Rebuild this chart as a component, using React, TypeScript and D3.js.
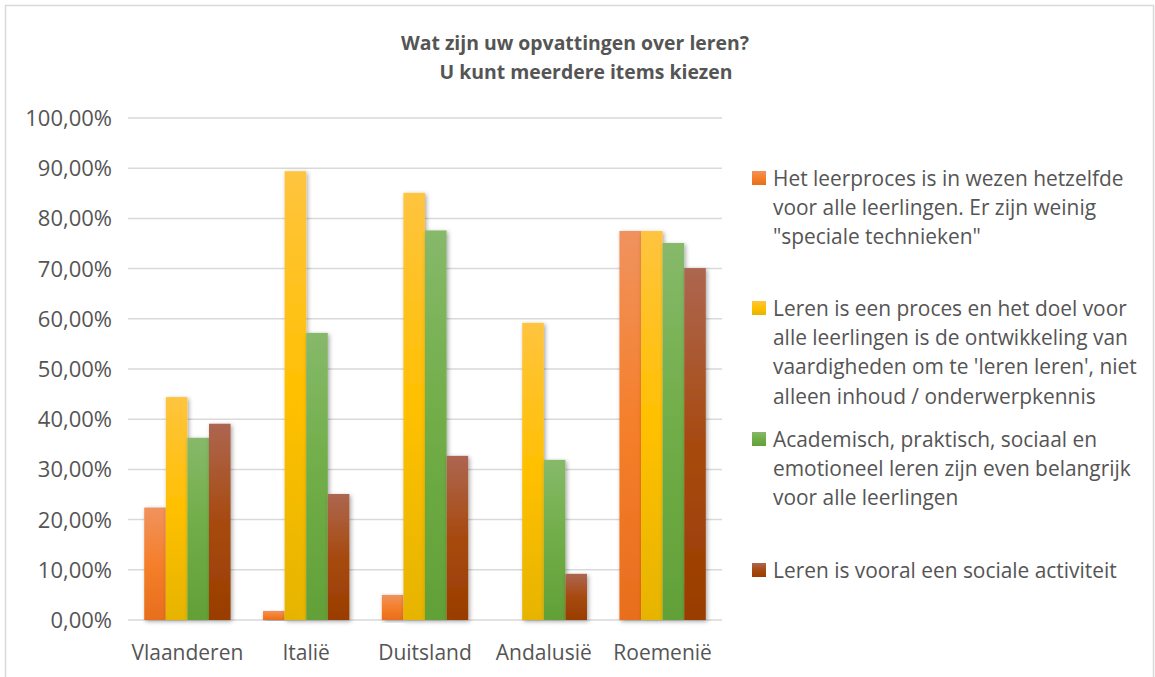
import React from "react";
import * as d3 from "d3";

const categories = ["Vlaanderen", "Italië", "Duitsland", "Andalusië", "Roemenië"];
const seriesNames = [
  "Het leerproces is in wezen hetzelfde voor alle leerlingen. Er zijn weinig \"speciale technieken\"",
  "Leren is een proces en het doel voor alle leerlingen is de ontwikkeling van vaardigheden om te 'leren leren', niet alleen inhoud / onderwerpkennis",
  "Academisch, praktisch, sociaal en emotioneel leren zijn even belangrijk voor alle leerlingen",
  "Leren is vooral een sociale activiteit",
];
const legendLines = [
  ["Het leerproces is in wezen hetzelfde", "voor alle leerlingen. Er zijn weinig", "\"speciale technieken\""],
  ["Leren is een proces en het doel voor", "alle leerlingen is de ontwikkeling van", "vaardigheden om te 'leren leren', niet", "alleen inhoud / onderwerpkennis"],
  ["Academisch, praktisch, sociaal en", "emotioneel leren zijn even belangrijk", "voor alle leerlingen"],
  ["Leren is vooral een sociale activiteit"],
];
const serieA = [0.224, 0.018, 0.05, 0.0, 0.775];
const serieB = [0.444, 0.894, 0.851, 0.592, 0.775];
const serieC = [0.363, 0.572, 0.776, 0.319, 0.751];
const serieD = [0.391, 0.251, 0.327, 0.092, 0.701];
const seriesValues = [serieA, serieB, serieC, serieD];
const yTicks = [0, 0.1, 0.2, 0.3, 0.4, 0.5, 0.6, 0.7, 0.8, 0.9, 1.0];
const titleLines = ["Wat zijn uw opvattingen over leren?", "U kunt meerdere items kiezen"];

const gradients = [
  ["#F0925E", "#F57F2A", "#E86E1D"],
  ["#FFC43F", "#FFC000", "#E6B400"],
  ["#86B96A", "#70AD47", "#62A038"],
  ["#AD6650", "#A74A10", "#993D00"],
];

const FONT = "'Open Sans', sans-serif";
const TEXT = "#555555";

export default function App() {
  const W = 1155, H = 677;
  const plotL = 128, plotR = 722, plotT = 118, plotB = 620;
  const x0 = d3.scaleBand<string>().domain(categories).range([plotL, plotR]).paddingInner(0.273).paddingOuter(0.1365);
  const x1 = d3.scaleBand<number>().domain([0, 1, 2, 3]).range([0, x0.bandwidth()]);
  const y = d3.scaleLinear().domain([0, 1]).range([plotB, plotT]);
  const fmt = (v: number) => (v * 100).toFixed(2).replace(".", ",") + "%";
  const legendStarts = [186, 316, 447, 578];
  const lineH = 29.2;
  const titleX = [575, 586];

  return (
    <svg width={W} height={H} style={{ position: "absolute", left: 0, top: 0, display: "block" }}>
      <defs>
        {gradients.map((g, i) => (
          <linearGradient key={i} id={`g${i}`} x1="0" y1="0" x2="0" y2="1">
            <stop offset="0%" stopColor={g[0]} />
            <stop offset="50%" stopColor={g[1]} />
            <stop offset="100%" stopColor={g[2]} />
          </linearGradient>
        ))}
        <filter id="shadow" x="-30%" y="-5%" width="160%" height="115%">
          <feDropShadow dx="1.5" dy="1.5" stdDeviation="2" floodColor="#000" floodOpacity="0.35" />
        </filter>
      </defs>
      <rect x={0} y={0} width={W} height={H} fill="#fff" />
      <rect x={5.5} y={5.5} width={1148} height={H + 10} fill="#fff" stroke="#D9D9D9" strokeWidth={1.5} />
      {titleLines.map((t, i) => (
        <text key={i} x={titleX[i]} y={50 + i * 29} textAnchor="middle" fontFamily={FONT} fontWeight="bold" fontSize={19.4} fill={TEXT}>
          {t}
        </text>
      ))}
      {yTicks.map((t) => (
        <g key={t}>
          <line x1={plotL} x2={plotR} y1={y(t)} y2={y(t)} stroke="#D9D9D9" strokeWidth={1.5} />
          <text x={112} y={y(t)} dy="0.36em" textAnchor="end" fontFamily={FONT} fontSize={22} fill={TEXT}>
            {fmt(t)}
          </text>
        </g>
      ))}
      {categories.map((c, ci) => (
        <g key={c}>
          {seriesValues.map((vals, si) => {
            const v = vals[ci];
            if (v <= 0) return null;
            const bx = (x0(c) as number) + (x1(si) as number);
            return (
              <rect key={si} x={bx} y={y(v)} width={x1.bandwidth()} height={y(0) - y(v)} fill={`url(#g${si})`} filter="url(#shadow)" />
            );
          })}
          <text x={(x0(c) as number) + x0.bandwidth() / 2} y={660} textAnchor="middle" fontFamily={FONT} fontSize={21} fill={TEXT}>
            {c}
          </text>
        </g>
      ))}
      {legendLines.map((lines, i) => (
        <g key={i}>
          <title>{seriesNames[i]}</title>
          <rect x={752} y={legendStarts[i] - 15} width={14} height={14} fill={`url(#g${i})`} />
          {lines.map((l, j) => (
            <text key={j} x={773} y={legendStarts[i] + j * lineH} fontFamily={FONT} fontSize={20.9} fill={TEXT}>
              {l}
            </text>
          ))}
        </g>
      ))}
    </svg>
  );
}
